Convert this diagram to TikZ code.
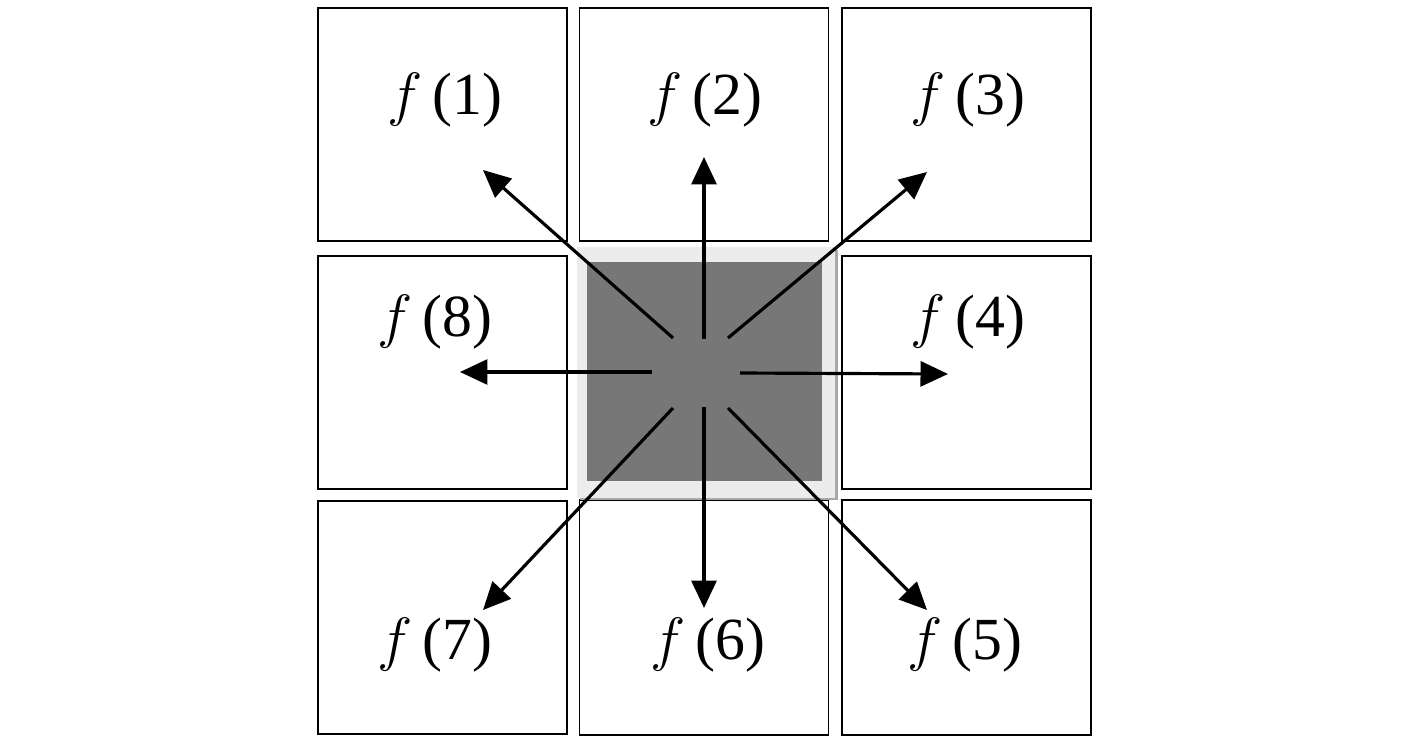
\RequirePackage{fix-cm}
\documentclass[tikz,border=0pt]{standalone}
\usepackage{fontspec}
\setmainfont{Liberation Serif}
\usetikzlibrary{arrows.meta}
\definecolor{framegray}{HTML}{ECECEC}
\definecolor{shadegray}{HTML}{A8A8A8}
\definecolor{coregray}{HTML}{777777}
\begin{document}
\begin{tikzpicture}[x=0.02cm, y=-0.02cm,
    cell/.style={rectangle, draw, line width=1.1pt, minimum width=4.98cm, minimum height=4.66cm},
    lab/.style={font=\fontsize{34}{36}\selectfont},
    ray/.style={line width=1.8pt, -{Triangle[length=0.55cm, width=0.5cm]}}
]
    \useasboundingbox (0,0) rectangle (1417,743);
    % neighbour cells
    \node[cell] (c1) at (442.5,124.5) {};
    \node[cell] (c2) at (704,124.5) {};
    \node[cell] (c3) at (966.5,124.5) {};
    \node[cell] (c8) at (442.5,372.5) {};
    \node[cell] (c4) at (966.5,372.5) {};
    \node[cell] (c7) at (442.5,617.5) {};
    \node[cell, minimum height=4.7cm] (c6) at (704,617.5) {};
    \node[cell, minimum height=4.7cm] (c5) at (966.5,617.5) {};
    % centre cell
    \node[rectangle, fill=shadegray, minimum width=5.16cm, minimum height=5.02cm] (shade) at (709,375) {};
    \node[rectangle, fill=framegray, minimum width=5.16cm, minimum height=5.02cm] (frame) at (706,372.5) {};
    \node[rectangle, fill=coregray, minimum width=4.7cm, minimum height=4.38cm] (core) at (704.5,371.5) {};
    % labels
    \node[lab] (f1) at (445,100) {$f$\,(1)};
    \node[lab] (f2) at (705,100) {$f$\,(2)};
    \node[lab] (f3) at (968,100) {$f$\,(3)};
    \node[lab] (f8) at (435,322) {$f$\,(8)};
    \node[lab] (f4) at (968,322) {$f$\,(4)};
    \node[lab] (f7) at (435,645) {$f$\,(7)};
    \node[lab] (f6) at (708,645) {$f$\,(6)};
    \node[lab] (f5) at (965,645) {$f$\,(5)};
    % rays
    \foreach \sx/\sy/\ex/\ey/\n in {673/338/483/170/1, 704/339/704/157/2, 728/338/927/172/3,
        740/373/948/374/4, 728/408/927/610/5, 704/407/704/608/6, 673/408/483/610/7, 652/372/460/372/8} {
        \coordinate (s\n) at (\sx,\sy);
        \coordinate (t\n) at (\ex,\ey);
        \draw[ray] (s\n) -- (t\n);
    }
\end{tikzpicture}
\end{document}
